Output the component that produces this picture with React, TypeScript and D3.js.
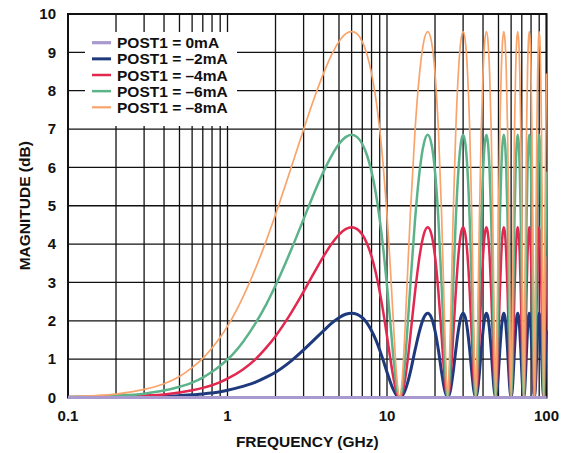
import React from "react";
import * as d3 from "d3";

// Frequency grid (GHz)
const FREQ = [
  0.1, 0.15, 0.2, 0.3, 0.4, 0.5, 0.6, 0.7, 0.8, 0.9,
  1, 1.25, 1.5, 1.75, 2, 2.5, 3, 3.5, 4, 4.5, 5, 5.5, 6,
  6.5, 7, 7.5, 8, 8.5, 9, 9.5, 10, 10.5, 11, 11.5, 12,
  12.5, 13, 13.5,
  14, 15, 16, 17, 18, 19, 20, 21, 22, 23, 24,
  25, 26, 27, 28, 29, 30, 31, 32, 33, 34, 35, 36,
  37, 38, 39, 40, 41, 42, 43, 44, 45, 46, 47, 48,
  49, 50, 51, 52, 53, 54, 55, 56, 57, 58, 59, 60,
  61, 62, 63, 64, 65, 66, 67, 68, 69, 70, 71, 72,
  73, 74, 75, 76, 77, 78, 79, 80, 81, 82, 83, 84,
  85, 86, 87, 88, 89, 90, 91, 92, 93, 94, 95, 96,
  97, 98, 99, 100,
];

// POST1 = 0mA (flat)
const FREQ_0MA = [0.1, 100];
const POST1_0MA = [0, 0];

// POST1 = -2mA (dB)
const POST1_2MA = [
  0, 0, 0.01, 0.02, 0.03, 0.05, 0.07, 0.09, 0.12, 0.15,
  0.19, 0.29, 0.4, 0.53, 0.66, 0.95, 1.24, 1.51, 1.74, 1.94, 2.08, 2.17, 2.2,
  2.17, 2.08, 1.94, 1.74, 1.51, 1.24, 0.95, 0.66, 0.4, 0.19, 0.05, 0,
  0.05, 0.19, 0.4,
  0.66, 1.24, 1.74, 2.08, 2.2, 2.08, 1.74, 1.24, 0.66, 0.19, 0,
  0.19, 0.66, 1.24, 1.74, 2.08, 2.2, 2.08, 1.74, 1.24, 0.66, 0.19, 0,
  0.19, 0.66, 1.24, 1.74, 2.08, 2.2, 2.08, 1.74, 1.24, 0.66, 0.19, 0,
  0.19, 0.66, 1.24, 1.74, 2.08, 2.2, 2.08, 1.74, 1.24, 0.66, 0.19, 0,
  0.19, 0.66, 1.24, 1.74, 2.08, 2.2, 2.08, 1.74, 1.24, 0.66, 0.19, 0,
  0.19, 0.66, 1.24, 1.74, 2.08, 2.2, 2.08, 1.74, 1.24, 0.66, 0.19, 0,
  0.19, 0.66, 1.24, 1.74, 2.08, 2.2, 2.08, 1.74, 1.24, 0.66, 0.19, 0,
  0.19, 0.66, 1.24, 1.74,
];

// POST1 = -4mA (dB)
const POST1_4MA = [
  0.01, 0.01, 0.02, 0.05, 0.08, 0.13, 0.19, 0.25, 0.32, 0.4,
  0.49, 0.73, 1.0, 1.3, 1.6, 2.2, 2.76, 3.26, 3.68, 4.01, 4.25, 4.39, 4.44,
  4.39, 4.25, 4.01, 3.68, 3.26, 2.76, 2.2, 1.6, 1.0, 0.49, 0.13, 0,
  0.13, 0.49, 1.0,
  1.6, 2.76, 3.68, 4.25, 4.44, 4.25, 3.68, 2.76, 1.6, 0.49, 0,
  0.49, 1.6, 2.76, 3.68, 4.25, 4.44, 4.25, 3.68, 2.76, 1.6, 0.49, 0,
  0.49, 1.6, 2.76, 3.68, 4.25, 4.44, 4.25, 3.68, 2.76, 1.6, 0.49, 0,
  0.49, 1.6, 2.76, 3.68, 4.25, 4.44, 4.25, 3.68, 2.76, 1.6, 0.49, 0,
  0.49, 1.6, 2.76, 3.68, 4.25, 4.44, 4.25, 3.68, 2.76, 1.6, 0.49, 0,
  0.49, 1.6, 2.76, 3.68, 4.25, 4.44, 4.25, 3.68, 2.76, 1.6, 0.49, 0,
  0.49, 1.6, 2.76, 3.68, 4.25, 4.44, 4.25, 3.68, 2.76, 1.6, 0.49, 0,
  0.49, 1.6, 2.76, 3.68,
];

// POST1 = -6mA (dB)
const POST1_6MA = [
  0.01, 0.03, 0.05, 0.1, 0.18, 0.28, 0.39, 0.52, 0.67, 0.83,
  0.99, 1.45, 1.94, 2.43, 2.92, 3.84, 4.65, 5.34, 5.89, 6.31, 6.61, 6.79, 6.85,
  6.79, 6.61, 6.31, 5.89, 5.34, 4.65, 3.84, 2.92, 1.94, 0.99, 0.28, 0,
  0.28, 0.99, 1.94,
  2.92, 4.65, 5.89, 6.61, 6.85, 6.61, 5.89, 4.65, 2.92, 0.99, 0,
  0.99, 2.92, 4.65, 5.89, 6.61, 6.85, 6.61, 5.89, 4.65, 2.92, 0.99, 0,
  0.99, 2.92, 4.65, 5.89, 6.61, 6.85, 6.61, 5.89, 4.65, 2.92, 0.99, 0,
  0.99, 2.92, 4.65, 5.89, 6.61, 6.85, 6.61, 5.89, 4.65, 2.92, 0.99, 0,
  0.99, 2.92, 4.65, 5.89, 6.61, 6.85, 6.61, 5.89, 4.65, 2.92, 0.99, 0,
  0.99, 2.92, 4.65, 5.89, 6.61, 6.85, 6.61, 5.89, 4.65, 2.92, 0.99, 0,
  0.99, 2.92, 4.65, 5.89, 6.61, 6.85, 6.61, 5.89, 4.65, 2.92, 0.99, 0,
  0.99, 2.92, 4.65, 5.89,
];

// POST1 = -8mA (dB)
const POST1_8MA = [
  0.02, 0.05, 0.09, 0.21, 0.36, 0.55, 0.78, 1.02, 1.29, 1.57,
  1.86, 2.62, 3.37, 4.09, 4.77, 5.98, 6.99, 7.81, 8.45, 8.94, 9.28, 9.48, 9.54,
  9.48, 9.28, 8.94, 8.45, 7.81, 6.99, 5.98, 4.77, 3.37, 1.86, 0.55, 0,
  0.55, 1.86, 3.37,
  4.77, 6.99, 8.45, 9.28, 9.54, 9.28, 8.45, 6.99, 4.77, 1.86, 0,
  1.86, 4.77, 6.99, 8.45, 9.28, 9.54, 9.28, 8.45, 6.99, 4.77, 1.86, 0,
  1.86, 4.77, 6.99, 8.45, 9.28, 9.54, 9.28, 8.45, 6.99, 4.77, 1.86, 0,
  1.86, 4.77, 6.99, 8.45, 9.28, 9.54, 9.28, 8.45, 6.99, 4.77, 1.86, 0,
  1.86, 4.77, 6.99, 8.45, 9.28, 9.54, 9.28, 8.45, 6.99, 4.77, 1.86, 0,
  1.86, 4.77, 6.99, 8.45, 9.28, 9.54, 9.28, 8.45, 6.99, 4.77, 1.86, 0,
  1.86, 4.77, 6.99, 8.45, 9.28, 9.54, 9.28, 8.45, 6.99, 4.77, 1.86, 0,
  1.86, 4.77, 6.99, 8.45,
];

const X_TICKS = [0.1, 1, 10, 100];
const X_TICK_LABELS = ["0.1", "1", "10", "100"];
const Y_TICKS = [0, 1, 2, 3, 4, 5, 6, 7, 8, 9, 10];
const LEGEND_LABELS = [
  "POST1 = 0mA",
  "POST1 = \u20132mA",
  "POST1 = \u20134mA",
  "POST1 = \u20136mA",
  "POST1 = \u20138mA",
];
const COLORS = ["#a899cf", "#1f3a7c", "#e2284f", "#5cb38a", "#f9a46b"];
const WIDTHS = [3.2, 3, 2.5, 2.5, 1.7];

const W = 570;
const H = 453;
const PL = 68;
const PR = 546.5;
const PT = 14;
const PB = 397.5;
const FONT = "'Liberation Sans', Arial, Helvetica, sans-serif";

export default function App() {
  const x = d3.scaleLog().domain([0.1, 100]).range([PL, PR]);
  const y = d3.scaleLinear().domain([0, 10]).range([PB, PT]);

  const gridX: number[] = [];
  for (const dec of [0.1, 1, 10]) {
    for (let m = 1; m <= 9; m++) gridX.push(+(m * dec).toPrecision(3));
  }
  gridX.push(100);

  const line = d3
    .line<[number, number]>()
    .x((d) => x(d[0]))
    .y((d) => y(d[1]))
    .curve(d3.curveMonotoneX);

  const seriesData: [number, number][][] = [
    FREQ_0MA.map((f, i) => [f, POST1_0MA[i]]),
    FREQ.map((f, i) => [f, POST1_2MA[i]]),
    FREQ.map((f, i) => [f, POST1_4MA[i]]),
    FREQ.map((f, i) => [f, POST1_6MA[i]]),
    FREQ.map((f, i) => [f, POST1_8MA[i]]),
  ];

  const legendX = 85;
  const legendY = 32;
  const legendW = 152;
  const legendH = 94;
  const rowY0 = 42.7;
  const rowStep = 16.15;

  return (
    <svg
      width={W}
      height={H}
      style={{ position: "absolute", left: 0, top: 0, background: "#fff" }}
      fontFamily={FONT}
    >
      <rect x={0} y={0} width={W} height={H} fill="#fff" />
      {/* grid */}
      <g stroke="#111" strokeWidth={1.3}>
        {gridX.map((g) => (
          <line key={"gx" + g} x1={x(g)} x2={x(g)} y1={PT} y2={PB} />
        ))}
        {Y_TICKS.map((t) => (
          <line key={"gy" + t} x1={PL} x2={PR} y1={y(t)} y2={y(t)} />
        ))}
      </g>
      {/* legend box */}
      <rect x={legendX} y={legendY} width={legendW} height={legendH} fill="#fff" />
      {/* frame */}
      <rect
        x={PL}
        y={PT}
        width={PR - PL}
        height={PB - PT}
        fill="none"
        stroke="#111"
        strokeWidth={2}
      />
      {/* curves */}
      {[1, 2, 3, 4, 0].map((i) => (
        <path
          key={"s" + i}
          d={line(seriesData[i]) || ""}
          fill="none"
          stroke={COLORS[i]}
          strokeWidth={WIDTHS[i]}
          strokeLinejoin="round"
        />
      ))}
      {/* legend */}
      {LEGEND_LABELS.map((lab, i) => {
        const yy = rowY0 + i * rowStep;
        return (
          <g key={"lg" + i}>
            <line
              x1={92}
              x2={111}
              y1={yy}
              y2={yy}
              stroke={COLORS[i]}
              strokeWidth={WIDTHS[i] < 2.5 ? 2.2 : WIDTHS[i]}
            />
            <text
              x={117}
              y={yy + 5.5}
              fontSize={15.5}
              fontWeight="bold"
              fill="#111"
            >
              {lab}
            </text>
          </g>
        );
      })}
      {/* y tick labels */}
      {Y_TICKS.map((t) => (
        <text
          key={"yt" + t}
          x={56}
          y={y(t) + 5.3}
          textAnchor="end"
          fontSize={15}
          fontWeight="bold"
          fill="#111"
        >
          {t}
        </text>
      ))}
      {/* x tick labels */}
      {X_TICKS.map((t, i) => (
        <text
          key={"xt" + t}
          x={x(t)}
          y={421}
          textAnchor="middle"
          fontSize={15}
          fontWeight="bold"
          fill="#111"
        >
          {X_TICK_LABELS[i]}
        </text>
      ))}
      {/* axis titles */}
      <text
        x={(PL + PR) / 2}
        y={447}
        textAnchor="middle"
        fontSize={15.5}
        fontWeight="bold"
        fill="#111"
      >
        FREQUENCY (GHz)
      </text>
      <text
        transform={`translate(30, ${(PT + PB) / 2}) rotate(-90)`}
        textAnchor="middle"
        fontSize={15.5}
        fontWeight="bold"
        fill="#111"
      >
        MAGNITUDE (dB)
      </text>
    </svg>
  );
}
